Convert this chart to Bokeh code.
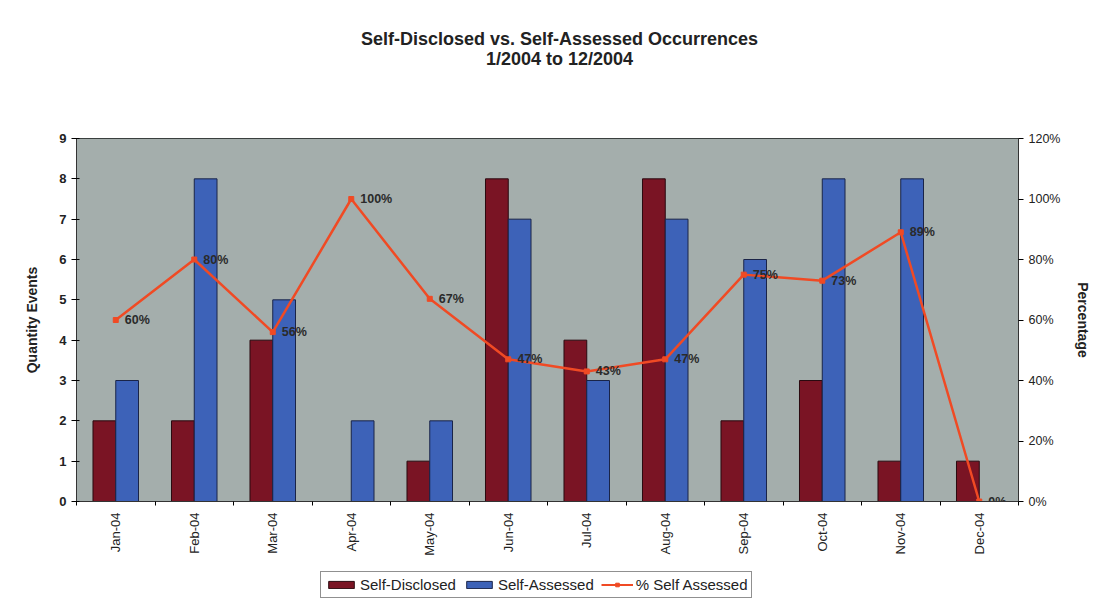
import math
from bokeh.plotting import figure
from bokeh.layouts import column
from bokeh.core.properties import value
from bokeh.models import (Range1d, LinearAxis, FixedTicker, NumeralTickFormatter,
                          ColumnDataSource, Legend, LegendItem, Label)
from bokeh.embed import file_html
from bokeh.resources import INLINE

# Monthly occurrence counts, 2004
months = ["Jan-04", "Feb-04", "Mar-04", "Apr-04", "May-04", "Jun-04",
          "Jul-04", "Aug-04", "Sep-04", "Oct-04", "Nov-04", "Dec-04"]
self_disclosed = [2, 2, 4, 0, 1, 8, 4, 8, 2, 3, 1, 1]
self_assessed = [3, 8, 5, 2, 2, 7, 3, 7, 6, 8, 8, 0]
pct_self_assessed = [0.60, 0.80, 0.56, 1.00, 0.67, 0.47, 0.43, 0.47, 0.75, 0.73, 0.89, 0.00]

count_ticks = list(range(0, 10))
pct_ticks = [0.0, 0.2, 0.4, 0.6, 0.8, 1.0, 1.2]

FONT = "Liberation Sans"
TXT = "#222222"
RED = "#7a1424"
RED_EDGE = "#2a0a10"
BLUE = "#3d62b8"
BLUE_EDGE = "#1a2448"
LINE = "#f04a24"
PLOT_BG = "#a4aeac"

W = 1099
TOP_H, LEG_H = 128, 41
FRAME_W, FRAME_H = 942, 363
FRAME_LEFT = 76

n = len(months)
centers = [i + 0.5 for i in range(n)]
bar_w = 0.29

src = ColumnDataSource(dict(
    x_sd=[c - bar_w / 2 for c in centers],
    x_sa=[c + bar_w / 2 for c in centers],
    x=centers,
    sd=self_disclosed,
    sa=self_assessed,
    pct=pct_self_assessed,
    pct_label=[f"{round(v * 100)}%" for v in pct_self_assessed],
))


def strip(height, x_range, y_range):
    f = figure(width=W, height=height, output_backend="svg", toolbar_location=None,
               x_range=x_range, y_range=y_range,
               min_border=0, x_axis_type=None, y_axis_type=None)
    f.outline_line_color = None
    f.grid.visible = False
    f.background_fill_color = "white"
    f.border_fill_color = "white"
    return f


# ---- title strip (its frame lines up with the chart frame) ----
top = strip(TOP_H, Range1d(0, 1), Range1d(0, 1))
for txt, y in [("Self-Disclosed vs. Self-Assessed Occurrences", TOP_H - 38),
               ("1/2004 to 12/2004", TOP_H - 58)]:
    top.add_layout(Label(x=559 - FRAME_LEFT, y=y, x_units="screen", y_units="screen",
                         text=txt, text_align="center", text_baseline="middle",
                         text_font=FONT, text_font_size="18px",
                         text_font_style="bold", text_color=TXT))

# ---- main chart ----
p = figure(frame_width=FRAME_W, frame_height=FRAME_H, output_backend="svg",
           toolbar_location=None,
           x_range=Range1d(0, n), y_range=Range1d(0, 9),
           min_border_left=FRAME_LEFT, min_border_right=81, min_border_top=10,
           min_border_bottom=64)
p.extra_y_ranges = {"pct": Range1d(0, 1.2)}
p.border_fill_color = "white"
p.background_fill_color = PLOT_BG
p.outline_line_color = "#3a3f3e"
p.outline_line_width = 1
p.grid.visible = False

p.vbar(x="x_sd", top="sd", width=bar_w, source=src, fill_color=RED,
       line_color=RED_EDGE, line_width=1)
p.vbar(x="x_sa", top="sa", width=bar_w, source=src, fill_color=BLUE,
       line_color=BLUE_EDGE, line_width=1)

p.line(x="x", y="pct", source=src, y_range_name="pct", line_color=LINE, line_width=2.5)
p.scatter(x="x", y="pct", source=src, y_range_name="pct", marker="square",
          size=5, fill_color=LINE, line_color=LINE)
p.text(x="x", y="pct", text="pct_label", source=src, y_range_name="pct",
       x_offset=9, text_baseline="middle", text_align="left",
       text_font=value(FONT), text_font_size="12.5px", text_font_style="bold",
       text_color="#2a2a2a")

# X axis: month labels centred, tick marks at category boundaries
xa = p.xaxis[0]
xa.ticker = FixedTicker(ticks=centers, minor_ticks=list(range(0, n + 1)))
xa.major_label_overrides = {c: m for c, m in zip(centers, months)}
xa.major_label_orientation = math.pi / 2
xa.major_tick_out = 0
xa.major_tick_in = 0
xa.minor_tick_out = 4
xa.minor_tick_in = 0
xa.axis_line_color = "#333333"
xa.major_label_text_font = FONT
xa.major_label_text_font_size = "13px"
xa.major_label_text_color = TXT
xa.major_label_standoff = 7

# Left axis: counts
ya = p.yaxis[0]
ya.ticker = FixedTicker(ticks=count_ticks)
ya.axis_label = "Quantity Events"
ya.axis_label_text_font = FONT
ya.axis_label_text_font_size = "14px"
ya.axis_label_text_font_style = "bold"
ya.axis_label_text_color = TXT
ya.axis_label_standoff = 16
ya.major_label_text_font = FONT
ya.major_label_text_font_size = "13px"
ya.major_label_text_font_style = "bold"
ya.major_label_text_color = TXT
ya.major_tick_out = 5
ya.major_tick_in = 3
ya.minor_tick_line_color = None
ya.axis_line_color = "#333333"

# Right axis: percentage
ra = LinearAxis(y_range_name="pct", ticker=FixedTicker(ticks=pct_ticks),
                formatter=NumeralTickFormatter(format="0%"))
ra.axis_label = "Percentage"
ra.axis_label_text_font = FONT
ra.axis_label_text_font_size = "14px"
ra.axis_label_text_font_style = "bold"
ra.axis_label_text_color = TXT
ra.axis_label_standoff = 12
ra.major_label_text_font = FONT
ra.major_label_text_font_size = "12.5px"
ra.major_label_text_color = TXT
ra.major_tick_out = 5
ra.major_tick_in = 0
ra.minor_tick_line_color = None
ra.axis_line_color = "#333333"
p.add_layout(ra, "right")

# ---- legend strip: same series styles, kept outside this strip's visible ranges ----
leg = strip(LEG_H, Range1d(100, 101), Range1d(100, 101))
k_sd = leg.vbar(x="x_sd", top="sd", width=bar_w, source=src, fill_color=RED,
                line_color=RED_EDGE)
k_sa = leg.vbar(x="x_sa", top="sa", width=bar_w, source=src, fill_color=BLUE,
                line_color=BLUE_EDGE)
k_ln = leg.line(x="x", y="pct", source=src, line_color=LINE, line_width=2)
k_pt = leg.scatter(x="x", y="pct", source=src, marker="square", size=5,
                   fill_color=LINE, line_color=LINE)
legend = Legend(items=[
    LegendItem(label="Self-Disclosed", renderers=[k_sd]),
    LegendItem(label="Self-Assessed", renderers=[k_sa]),
    LegendItem(label="% Self Assessed", renderers=[k_ln, k_pt]),
], orientation="horizontal", location=(320 - FRAME_LEFT, 8))
legend.label_text_font = FONT
legend.label_text_font_size = "15px"
legend.label_text_color = TXT
legend.glyph_width = 32
legend.glyph_height = 9
legend.label_standoff = 3
legend.spacing = 7
legend.padding = 4
legend.margin = 0
legend.label_height = 12
legend.border_line_color = "#222222"
legend.border_line_width = 1
legend.background_fill_color = "white"
leg.add_layout(legend)

layout = column(top, p, leg, spacing=0)
open("out.html", "w").write(file_html(layout, INLINE))
